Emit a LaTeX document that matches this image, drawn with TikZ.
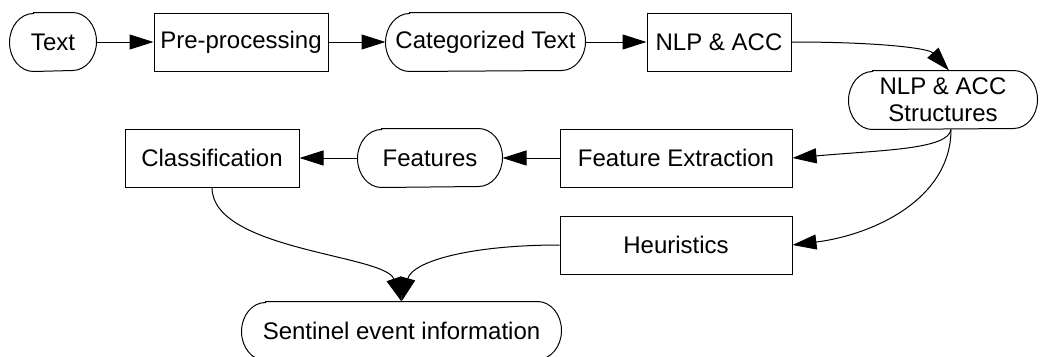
\documentclass[tikz,border=0pt]{standalone}
\usepackage{fontspec}
\setmainfont{Liberation Sans}
\usetikzlibrary{arrows.meta,calc}
\tikzset{
  box/.style={draw, line width=1pt, minimum height=58pt, inner sep=0pt, align=center,
    font=\fontsize{24}{27}\selectfont},
  stadnode/.style={box, draw=none},
  stadline/.style={line width=1pt},
  conn/.style={line width=1pt, -{Triangle[length=24pt,width=15pt]}},
}
\newcommand\stadoutline[1]{%
  \draw[stadline] ($(#1.north west)+(24,0)$) -- ($(#1.north east)+(-24,0)$)
    arc[start angle=-90,end angle=90,x radius=24,y radius=29]
    -- ($(#1.south west)+(24,0)$)
    arc[start angle=90,end angle=270,x radius=24,y radius=29] -- cycle;}
\begin{document}
\begin{tikzpicture}[x=1pt,y=-1pt]
\useasboundingbox (0,0) rectangle (1040,356);
\node[stadnode, minimum width=86pt] (text) at (53,42) {Text};
\node[box, minimum width=174pt] (pre) at (241,42) {Pre-processing};
\node[stadnode, minimum width=199pt] (cat) at (485.5,42) {Categorized Text};
\node[box, minimum width=144pt] (nlp) at (719,42) {NLP \& ACC};
\node[stadnode, minimum width=188pt] (str) at (943,100) {NLP \& ACC\\Structures};
\node[box, minimum width=232pt] (fe) at (676,158) {Feature Extraction};
\node[stadnode, minimum width=144pt] (feat) at (430,158) {Features};
\node[box, minimum width=174pt] (cls) at (212,158) {Classification};
\node[box, minimum width=232pt] (heu) at (676,245) {Heuristics};
\node[stadnode, minimum width=319pt] (sen) at (401.5,331) {Sentinel event information};
\stadoutline{text}
\stadoutline{cat}
\stadoutline{str}
\stadoutline{feat}
\stadoutline{sen}
\draw[conn] (text) -- (pre);
\draw[conn] (pre) -- (cat);
\draw[conn] (cat) -- (nlp);
\draw[conn] (nlp.east) .. controls +(90,0) and +(-20,-22) .. ($(str.north)+(6,0)$);
\draw[conn] ($(str.south)+(8,0)$) .. controls +(-3,20) and +(90,-8) .. (fe.east);
\draw[conn] ($(str.south)+(8,0)$) .. controls +(0,70) and +(80,-10) .. (heu.east);
\draw[conn] (fe) -- (feat);
\draw[conn] (feat) -- (cls);
\draw[conn] (cls.south) .. controls +(0,63) and +(-16,-47) .. (sen.north);
\draw[conn] (heu.west) .. controls +(-90,0) and +(11,-40) .. (sen.north);
\end{tikzpicture}
\end{document}
